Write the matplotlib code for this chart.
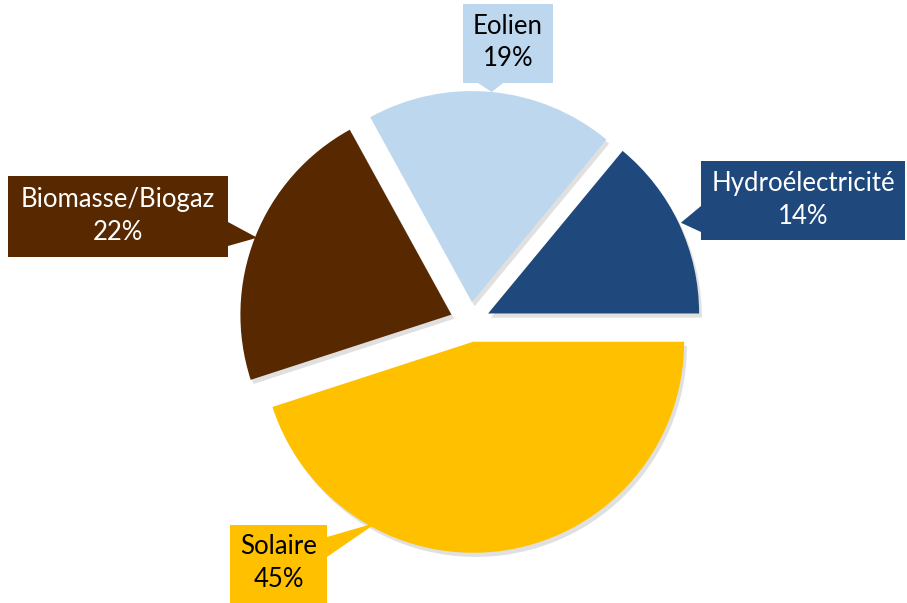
import matplotlib
matplotlib.use("Agg")
import matplotlib.pyplot as plt
import numpy as np
from matplotlib.patches import Rectangle, Polygon
import matplotlib.patheffects as pe

categories = ["Hydroélectricité", "Eolien", "Biomasse/Biogaz", "Solaire"]
values = [14, 19, 22, 45]
colors = ["#1F497D", "#BDD7EE", "#582900", "#FFC000"]
text_colors = ["white", "black", "white", "black"]

W, H = 907, 603
fig = plt.figure(figsize=(W / 100, H / 100), dpi=100)
ax = fig.add_axes([0, 0, 1, 1])

cx, cy = 470, H - 322
R = 211
explode = [20, 20, 20, 20]  # data units (pixels)

wedges, _ = ax.pie(values, colors=colors, startangle=0, counterclock=True,
                   center=(cx, cy), radius=R, explode=explode, frame=True,
                   wedgeprops=dict(linewidth=0))
for w in wedges:
    w.set_path_effects([pe.SimplePatchShadow(offset=(2, -3), shadow_rgbFace="#000000", alpha=0.12),
                        pe.Normal()])
ax.set_xlim(0, W)
ax.set_ylim(0, H)
ax.set_aspect("equal")
ax.axis("off")

# callout boxes (pixel layout, y from top)
boxes = [
    (701, 161, 905, 240),   # Hydro
    (463, 4, 553, 83),      # Eolien
    (8, 176, 228, 257),     # Biomasse
    (230, 525, 327, 603),   # Solaire
]
# pointer base segments on box edge (pixel, y from top)
bases = [
    ((701, 206), (701, 232)),
    ((478, 83), (503, 83)),
    ((228, 222), (228, 246)),
    ((327, 537), (327, 557)),
]
tip_angle_offset = [0, 0, 0, -37]
tip_rfrac = [1.01, 1.0, 0.99, 0.97]

for i, w in enumerate(wedges):
    x0, y0, x1, y1 = boxes[i]
    ax.add_patch(Rectangle((x0, H - y1), x1 - x0, y1 - y0, facecolor=colors[i],
                           edgecolor="none", zorder=5))
    ax.text((x0 + x1) / 2, H - (y0 + y1) / 2 + 1,
            f"{categories[i]}\n{values[i]}%", ha="center", va="center",
            color=text_colors[i], fontsize=18.5, family=["Lato", "DejaVu Sans"],
            linespacing=1.4, zorder=6)
    ang = np.deg2rad((w.theta1 + w.theta2) / 2 + tip_angle_offset[i])
    wcx, wcy = w.center
    tip = (wcx + tip_rfrac[i] * w.r * np.cos(ang), wcy + tip_rfrac[i] * w.r * np.sin(ang))
    (bx0, by0), (bx1, by1) = bases[i]
    ax.add_patch(Polygon([(bx0, H - by0), (bx1, H - by1), tip], closed=True,
                         facecolor=colors[i], edgecolor="none", zorder=5))

fig.savefig("out.png", dpi=100, facecolor="white")
